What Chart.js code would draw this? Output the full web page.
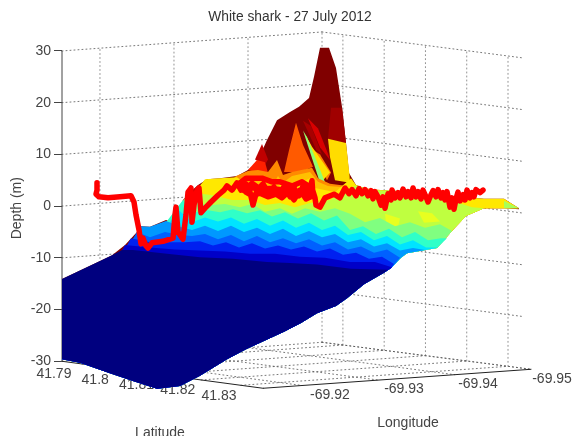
<!DOCTYPE html>
<html>
<head>
<meta charset="utf-8">
<title>White shark - 27 July 2012</title>
<script src="https://cdn.jsdelivr.net/npm/chart.js@4"></script>
<style>
html, body { margin: 0; padding: 0; background: #fff; }
canvas { display: block; }
</style>
</head>
<body>
<canvas id="sharkChart" width="574" height="436"></canvas>
<script>
// axes
var depthTicks = [-30, -20, -10, 0, 10, 20, 30];
var latTicks = [41.79, 41.8, 41.81, 41.82, 41.83];
var lonTicks = [-69.92, -69.93, -69.94, -69.95];

// seabed outline, [view position, depth]
var surfaceTop = [[62,-14.1],[100,-10.6],[112,-9.5],[125,-7.5],[137,-5],[141,-3.9],[150,-4],[166,-2.7],[172,-3.1],[178,-1.1],[183,1.2],[190,2.7],[198,4.1],[207,5.2],[220,5.4],[237,5.8],[248,7],[257,8.5],[267,12.8],[277,16.6],[290,18.2],[299,19.2],[309,20.9],[314,25],[320,30.6],[329,30.6],[336,26.7],[342,19.2],[346,12.2],[349,6.4],[356,4.1],[370,3.1],[400,2.9],[430,2.1],[460,1.8],[484,1.4],[504,1.4],[519,-0.4]];
var surfaceBottom = [[519,-0.6],[504,-0.4],[484,-0.4],[466,-1.9],[454,-4.4],[437,-8.1],[407,-9.1],[401,-10],[391,-12],[384,-12.9],[364,-15.1],[347,-17.8],[336,-19.3],[317,-20.7],[301,-22.6],[284,-24.3],[247,-27.6],[227,-29.6],[200,-32.8],[180,-34.8],[157,-35.3],[133,-33.8],[110,-32.3],[80,-30.3],[62,-29.6]];

// facets on the high ground
var peakBlock = [[331,19],[342,19],[346,12.2],[328,13]];
var peakStripeDeep = [[303,16.5],[311,15.5],[322,10],[316,11]];
var peakStripeRed = [[308,17],[318,15],[328,10.1],[330,8.9],[320,11.4]];
var peakStripeOrange = [[312,11],[320,10],[331,6.5],[327,5]];
var peakStripeYellow = [[305,14],[312,11.5],[330,6.5],[323,5],[312,10.5]];
var peakStripeGreen = [[303,14.6],[307,13.3],[327,3.7],[320,4.5]];
var peakWedge = [[296,16.1],[303,11.8],[313,7.6],[300,6.6],[284,6.6],[289,10.8]];
var peakRightYellow = [[328,13],[346,12.2],[349.5,6],[350,4.5],[335,5],[330,9.5]];
var peakLeftDeep = [[255,9],[262,12],[268,9],[265,8]];
var peakLeftRed = [[248,7],[257,8.9],[265,8.5],[268,6.4],[260,6.4]];

// upper edge of each depth colour band
var bandOrange = [[236,5.8],[248,6.8],[258,7],[268,6.6],[277,8.9],[283,6],[292,6.6],[312,7.4],[318,5.4],[330,4.3],[355,3.7],[400,2.7],[519,-0.4]];
var bandGold = [[225,5.4],[240,5],[250,4.7],[262,5],[273,4.1],[278,5.8],[283,4.5],[292,5.8],[310,6.6],[318,4.7],[328,3.9],[355,3.5],[400,2.5],[519,-0.4]];
var bandYellow = [[205,5.2],[220,5.4],[237,5.6],[250,3.7],[262,4.1],[273,3.1],[280,4.1],[290,3.5],[310,5.4],[315,3.5],[335,2.7],[351,5.4],[356,4.1],[370,3.1],[400,2.9],[430,2.1],[460,1.8],[484,1.4],[504,1.4],[519,-0.4]];
var bandLime = [[192,2.7],[215,2],[232,1.2],[250,1.2],[265,0.2],[280,0.6],[295,-0.2],[310,0.6],[330,1.2],[345,3],[356,4],[370,3.1],[400,2.9],[430,2.1],[450,1.8],[462,0.4],[472,-0.2],[484,-0.4]];
var limePatch = [[385,-1.5],[400,-2.4],[398,-4],[386,-3.4]];
var limePatchRight = [[418,-1],[432,-1.4],[440,-3],[424,-3.2]];
var tipPatch = [[504,1],[519,-0.4],[504,-0.4]];
var bandGreen = [[188,2.3],[200,0.4],[212,0.2],[225,0.4],[240,-0.2],[252,0.4],[265,-1.1],[280,-0.4],[292,-1.5],[305,-0.4],[320,-1.1],[335,-0.4],[350,-1.5],[365,-3.1],[380,-2.3],[395,-3.9],[410,-3.1],[425,-4.2],[440,-3.5],[452,-4.8]];
var bandTeal = [[183,1.2],[195,-1.2],[208,-0.8],[220,-1.2],[233,-0.6],[247,-1.4],[260,-0.8],[272,-2],[285,-1.2],[298,-2.4],[311,-1.4],[324,-2.8],[337,-1.8],[350,-4.6],[363,-3.9],[376,-5.4],[389,-4.4],[402,-6],[415,-5],[428,-6.6],[441,-6.2],[447,-6.2]];
var bandCyan = [[179,-0.8],[192,-3.1],[205,-2.2],[218,-3],[231,-2.2],[244,-3.4],[257,-2.5],[270,-3.8],[283,-2.8],[296,-4.2],[309,-3.2],[322,-4.6],[335,-3.8],[348,-5.6],[361,-5],[374,-6.6],[387,-5.8],[400,-7.4],[413,-6.6],[426,-8],[438,-8]];
var bandSky = [[141,-3.9],[150,-4],[166,-2.9],[172,-3.3],[180,-4],[192,-4.6],[205,-3.8],[218,-4.8],[231,-3.8],[244,-5],[257,-4.2],[270,-5.4],[283,-4.4],[296,-5.8],[309,-4.8],[322,-6],[335,-5.4],[348,-7],[361,-6.4],[374,-7.8],[387,-7.2],[400,-8.6],[413,-8.1],[425,-8.5]];
var bandBlue = [[137,-5],[150,-6],[165,-5],[180,-5.6],[192,-5.8],[205,-5.4],[218,-6.4],[231,-5.6],[244,-6.8],[257,-5.8],[270,-7],[283,-6.2],[296,-7.2],[309,-6.4],[322,-7.6],[335,-7],[348,-8.4],[361,-7.8],[374,-9],[387,-8.4],[400,-10]];
var bandDeep = [[131,-6.2],[150,-7],[170,-7],[185,-7],[200,-6.8],[213,-7.6],[226,-7],[239,-8],[252,-7.2],[265,-8.2],[278,-7.6],[291,-8.4],[304,-7.8],[317,-8.8],[330,-8.2],[343,-9.4],[356,-9],[369,-10.2],[382,-9.8],[394,-11.2]];
var bandDeeper = [[125,-7.5],[150,-8],[175,-8.4],[200,-8.6],[225,-8.8],[250,-9.2],[275,-9.2],[300,-9.8],[325,-10],[350,-10.8],[375,-10.8],[392,-11.8]];
var bandNavy = [[62,-14.1],[100,-10.6],[112,-9.5],[122,-8.5],[133,-8.5],[167,-9.2],[200,-9.9],[233,-10.2],[267,-10.8],[290,-11],[317,-11.3],[351,-12.1],[388,-12.3]];

// shark track
var track = [[97,4.5],[97,3.1],[96,2.3],[99,1.8],[108,1.6],[120,1.8],[131,2],[134,0.8],[136,-1.7],[139,-4.6],[141,-7.3],[143,-6.2],[146,-7.7],[148,-8.1],[152,-7.1],[163,-6.8],[173,-6.2],[175,-1.7],[176,-0.2],[178,-5],[183,-6.4],[186,-1.7],[188,2.7],[191,3.5],[192,-3.1],[194,0.2],[197,3.1],[199,3.5],[201,-1.3],[205,-0.4],[211,0.8],[218,2.1],[224,3.1],[227,3.9],[232,3.1],[237,4.5],[241,3.1],[246,4.3],[250,2.7],[253,0.2],[257,3.1],[263,4.3],[268,2.7],[274,3.7],[279,2.1],[285,4.1],[290,1.8],[294,3.5],[299,2],[304,4.3],[309,2.7],[312,4.9],[313,2],[306,1.4],[300,3.1],[294,1.2],[288,2.7],[282,1.6],[276,2.3],[268,1.8],[260,2.5],[252,2],[246,2.7],[240,4.5],[246,5.4],[252,5.4],[262,5.4],[272,4.7],[280,4.7],[292,3.9],[302,4.7],[312,3.5],[304,3.2],[296,2.8],[288,3.4],[280,3.2],[270,3.4],[260,3.3],[250,3.6],[244,3],[252,4.4],[262,3],[272,2.4],[284,2.6],[296,2.2],[306,2.4],[312,3.5],[315,1.6],[316,0.2],[320,-0.2],[325,1.6],[334,2.3],[340,1.6],[345,3.5],[349,2.4],[352,3.2],[356,2],[359,3.4],[362,2.4],[365,3.2],[368,2],[371,3],[373,1.4],[375,2.8],[378,1.8],[381,0.2],[383,1.8],[385,-0.4],[387,1.4],[388,2.4],[391,1.2],[392,3.1],[395,1.6],[398,2.6],[400,1.6],[403,3.3],[406,1.8],[408,2.8],[411,1.6],[413,3.5],[416,1.8],[418,2.8],[421,1.4],[423,3.1],[426,1.8],[428,0.8],[431,2.2],[433,3],[436,1.8],[438,3.2],[441,1.6],[443,2.6],[445,1.2],[447,2.8],[449,0.8],[450,-0.2],[452,1.6],[454,-0.6],[456,1.4],[458,2.7],[460,1],[463,2.2],[465,1.2],[467,3.1],[470,1.6],[472,2.6],[474,1.8],[476,3.2],[480,2.6],[483,3.1]];

// box corners in view position / depth, fractions along lon and lat
function boxPoint(fLon, fLat, depth) {
    return [62 + 260 * fLon + 201 * fLat + 8 * fLon * fLat, depth + 3.67 * fLon - 5.22 * fLat];
}
function lonFrac(v) { return (-69.92 - v) / 0.01 * 0.2847 + 0.146; }
function latFrac(v) { return (v - 41.79) / 0.01 * 0.1975 + 0.1; }

var datasets = [];
function addPoly(points, color) {
    datasets.push({
        data: points.map(function(p) { return {x: p[0], y: p[1]}; }),
        backgroundColor: color, borderWidth: 0, pointRadius: 0, fill: 'shape', tension: 0, clip: false
    });
}
function addLine(points, color, width, dash) {
    datasets.push({
        data: points.map(function(p) { return {x: p[0], y: p[1]}; }),
        borderColor: color, borderWidth: width, borderDash: dash || [], pointRadius: 0, fill: false, tension: 0, clip: false,
        borderJoinStyle: 'round', borderCapStyle: 'round'
    });
}
function addBand(edge, color) {
    var endX = edge[edge.length - 1][0];
    addPoly(edge.concat(surfaceBottom.filter(function(p) { return p[0] < endX; })), color);
}

// dotted box
var dots = [1, 3];
var dotColor = '#555555';
depthTicks.forEach(function(d) {
    addLine([boxPoint(0, 0, d), boxPoint(1, 0, d)], dotColor, 0.8, dots);
    addLine([boxPoint(1, 0, d), boxPoint(1, d == -30 ? 1 : 0.955, d)], dotColor, 0.8, dots);
});
lonTicks.forEach(function(v) {
    var f = lonFrac(v);
    addLine([boxPoint(f, 0, -30), boxPoint(f, 0, 30)], '#777777', 0.8, dots);
    addLine([boxPoint(f, 0, -30), boxPoint(f, 1, -30)], dotColor, 0.8, dots);
});
latTicks.forEach(function(v) {
    var f = latFrac(v);
    addLine([boxPoint(1, f, -30), boxPoint(1, f, 30)], '#777777', 0.8, dots);
    addLine([boxPoint(0, f, -30), boxPoint(1, f, -30)], dotColor, 0.8, dots);
});

// solid axes
addLine([[62, -30], [62, 30]], '#444444', 1);
addLine([boxPoint(0, 0, -30), boxPoint(0, 1, -30)], '#222222', 1);
addLine([boxPoint(0, 1, -30), boxPoint(1, 1, -30)], '#222222', 1);

// seabed, painted from the top colour down
addPoly(surfaceTop.concat(surfaceBottom), '#800000');
addPoly(peakBlock, '#a00000');
addPoly(peakStripeDeep, '#a80000');
addPoly(peakStripeRed, '#d80000');
addPoly(peakStripeOrange, '#ff8000');
addPoly(peakStripeYellow, '#ffe000');
addPoly(peakStripeGreen, '#90ff70');
addPoly(peakWedge, '#ff5a00');
addPoly(peakRightYellow, '#ffdc00');
addPoly(peakLeftDeep, '#c00000');
addPoly(peakLeftRed, '#ff2000');
addBand(bandOrange, '#ff8a00');
addBand(bandGold, '#ffc000');
addBand(bandYellow, '#ffe800');
addBand(bandLime, '#bfff40');
addPoly(limePatch, '#e8ff20');
addPoly(limePatchRight, '#e8ff20');
addPoly(tipPatch, '#a8ff58');
addBand(bandGreen, '#80ff80');
addBand(bandTeal, '#30ffc8');
addBand(bandCyan, '#00e4ff');
addBand(bandSky, '#0098ff');
addBand(bandBlue, '#0060ff');
addBand(bandDeep, '#0020f0');
addBand(bandDeeper, '#0000c8');
addBand(bandNavy, '#00007f');

// track on top
addLine(track, '#ff0000', 5.5);

// first dataset is drawn last in Chart.js, so flip
datasets.forEach(function(d, i) { d.order = datasets.length - i; });

var labelFont = '14px "Liberation Sans", Arial, sans-serif';
var floorLabels = {
    id: 'floorLabels',
    beforeDatasetsDraw: function(chart) {
        var c = chart.ctx, sx = chart.scales.x, sy = chart.scales.y;
        function put(text, xv, yv, dx, dy) {
            c.fillText(text, sx.getPixelForValue(xv) + dx, sy.getPixelForValue(yv) + dy);
        }
        c.save();
        c.font = labelFont;
        c.fillStyle = '#444444';
        c.textAlign = 'center';
        c.textBaseline = 'middle';
        latTicks.forEach(function(v) {
            var f = latFrac(v), p = boxPoint(0, f, -30);
            put(String(v), p[0], p[1], -29 + 8 * f, 10.5);
        });
        lonTicks.forEach(function(v) {
            var f = lonFrac(v), p = boxPoint(f, 1, -30);
            put(String(v), p[0], p[1], 29 - 8 * f, 9.5);
        });
        put('Longitude', 408, -41.9, 0, 0);
        put('Latitude', 160, -43.9, 0, 0);
        c.translate(17, sy.getPixelForValue(-0.4));
        c.rotate(-Math.PI / 2);
        c.fillText('Depth (m)', 0, 0);
        c.restore();
    }
};

new Chart(document.getElementById('sharkChart').getContext('2d'), {
    type: 'line',
    data: { datasets: datasets },
    plugins: [floorLabels],
    options: {
        responsive: false,
        animation: false,
        events: [],
        layout: { padding: { left: 6, right: 0, top: 0, bottom: 43.7 } },
        plugins: {
            legend: { display: false },
            tooltip: { enabled: false },
            title: {
                display: true,
                text: 'White shark - 27 July 2012',
                color: '#333333',
                font: { family: '"Liberation Sans", Arial, sans-serif', size: 13.8, weight: 'normal', lineHeight: 1.2 },
                padding: { top: 9, bottom: 4.7 }
            }
        },
        scales: {
            x: { type: 'linear', display: false, min: 62, max: 574 },
            y: {
                type: 'linear',
                min: -36,
                max: 34,
                afterBuildTicks: function(s) { s.ticks = depthTicks.map(function(v) { return {value: v}; }); },
                afterFit: function(s) { s.width = 56; },
                border: { display: false },
                grid: { drawOnChartArea: false, tickLength: 8, color: '#444444' },
                ticks: {
                    color: '#444444',
                    padding: 3,
                    autoSkip: false,
                    font: { family: '"Liberation Sans", Arial, sans-serif', size: 14 },
                    callback: function(v) { return String(v); }
                }
            }
        }
    }
});
</script>
</body>
</html>
